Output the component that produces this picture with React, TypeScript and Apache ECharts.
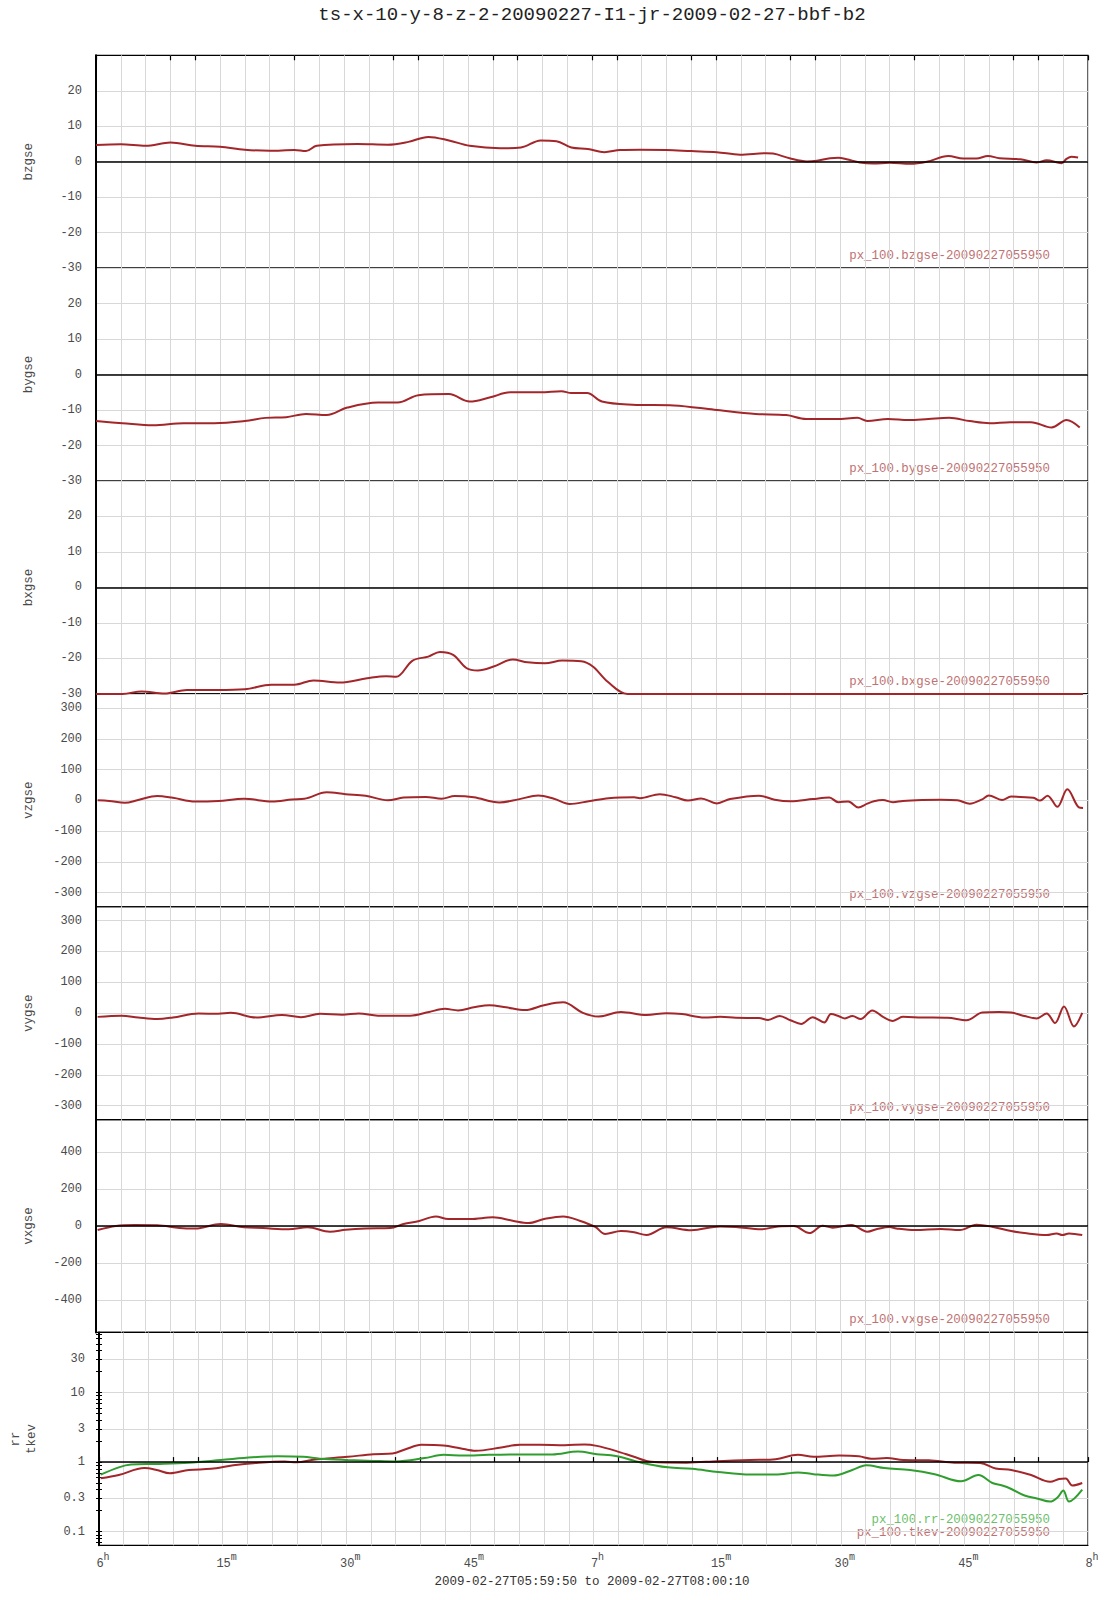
import React, { useEffect, useRef } from "react";
import * as echarts from "echarts";

// ---------- texts ----------
const TITLE = "ts-x-10-y-8-z-2-20090227-I1-jr-2009-02-27-bbf-b2";
const RANGE_TEXT = "2009-02-27T05:59:50 to 2009-02-27T08:00:10";
const SOURCE_SUFFIX = "-20090227055950";

// ---------- axis ticks / labels ----------
const xLabelMinutes = [0, 15, 30, 45, 60, 75, 90, 105, 120];
const xTickMinutes = [0, 9, 12, 24, 36, 39, 48, 51, 60, 63, 72, 75, 84, 87, 99, 111, 114, 120];
const bTicks = [-30, -20, -10, 0, 10, 20];
const vTicks = [-300, -200, -100, 0, 100, 200, 300];
const vxTicks = [-400, -200, 0, 200, 400];
const logTicks = [0.1, 0.3, 1, 3, 10, 30];

// ---------- data (minutes after 06:00 UT, values) ----------
const bzTime = [0, 3, 6, 9, 12, 15, 18, 21, 24, 25.4,
  26.7, 31.6, 35.3, 37.8, 40.2, 42.7, 45.2, 48.9, 51.4, 53.8,
  55.7, 57.5, 59.5, 61.5, 63.4, 65.8, 69, 72, 75.1, 77.9,
  81.1, 81.9, 83.9, 86, 87.2, 88.8, 89.8, 90.8, 92.4, 94,
  96, 98.5, 100.5, 103.1, 104.9, 106.5, 107.9, 109.3, 111.8, 113.8,
  115, 116.8, 117.4, 118, 118.8];
const bzValues = [4.7, 4.9, 4.5, 5.4, 4.5, 4.2, 3.4, 3.1, 3.3, 3.0,
  4.5, 5.0, 4.8, 5.6, 7.0, 6.0, 4.5, 3.8, 4.0, 6.0,
  5.8, 4.0, 3.6, 2.7, 3.3, 3.4, 3.3, 3.0, 2.7, 2.0,
  2.4, 2.3, 1.0, 0.1, 0.3, 1.0, 1.1, 0.7, -0.2, -0.5,
  -0.3, -0.6, 0, 1.6, 0.9, 0.9, 1.6, 1.0, 0.7, -0.2,
  0.4, -0.4, 0.8, 1.4, 1.2];

const byTime = [0, 3.2, 6.9, 10.6, 14.3, 18, 20.5, 23, 25.4, 27.9,
  30.4, 34.1, 36.5, 39, 42.7, 45.2, 47.7, 50.1, 53.8, 56.3,
  57.5, 59.4, 61.2, 64.9, 69.9, 74.8, 79.8, 83.5, 85.9, 89.6,
  92.1, 93.3, 95.8, 98.3, 100.7, 103.2, 105.7, 108.1, 110.6, 113.1,
  115.6, 117.4, 119];
const byValues = [-13.1, -13.7, -14.3, -13.7, -13.7, -13.1, -12.2, -12, -11.1, -11.4,
  -9.3, -7.9, -7.9, -5.8, -5.5, -7.6, -6.4, -5.0, -5.0, -4.7,
  -5.2, -5.2, -7.6, -8.5, -8.7, -9.9, -11.1, -11.4, -12.5, -12.5,
  -12.2, -13.1, -12.5, -12.8, -12.5, -12.2, -13.1, -13.7, -13.4, -13.4,
  -14.9, -12.8, -14.9];

const bxTime = [0, 3.2, 5.5, 8.3, 11, 14.7, 18, 21.2, 24, 26.3,
  29.5, 32.8, 35.1, 36.3, 38.3, 40.2, 41.6, 43.2, 44.8, 46.2,
  48.1, 50.4, 52.2, 54.3, 56.4, 58.7, 60.1, 61.9, 64.3, 75,
  90, 105, 119.4];
const bxValues = [-30, -30, -29.3, -29.9, -28.9, -28.9, -28.7, -27.4, -27.4, -26.2,
  -26.8, -25.6, -25.0, -25.2, -20.6, -19.5, -18.2, -19, -22.7, -23.4,
  -22.3, -20.3, -21.1, -21.4, -20.6, -20.8, -22.3, -26.6, -30, -30,
  -30, -30, -30];

const vzTime = [0.2, 1.6, 3.5, 5.1, 7.4, 9.3, 12, 14.8, 17.9, 21.3,
  23.7, 25.2, 27.9, 30.2, 32.6, 35.3, 37.2, 39.9, 41.8, 43.4,
  45.7, 48.8, 51.1, 53.5, 55.4, 57.3, 59.6, 62, 65.1, 65.8,
  68.2, 70.1, 71.6, 73.2, 75.1, 76.7, 80.2, 82.1, 84, 86.7,
  88.7, 89.8, 91, 92.2, 93.3, 94.1, 95.2, 96.4, 97.6, 99.9,
  102.2, 104.2, 105.7, 107.2, 108, 109.6, 110.7, 113.4, 114.2, 115.1,
  116.3, 117.5, 118.9, 119.4];
const vzValues = [0, -2, -8, 1, 14, 8, -4, -2, 5, -4,
  3, 5, 26, 20, 15, 0, 9, 11, 5, 14,
  10, -7, 3, 16, 5, -12, -3, 7, 10, 7,
  20, 10, -1, 6, -10, 4, 15, 2, -3, 4,
  9, -6, -4, -23, -11, -3, 1, -6, -2, 1,
  2, 0, -11, 3, 16, 1, 12, 8, -1, 15,
  -21, 36, -23, -25];

const vyTime = [0.2, 3.1, 5.1, 7.4, 9.3, 12.4, 14.8, 16.3, 19.4, 22.5,
  24.8, 27.1, 29.8, 31.8, 34.1, 38, 40.3, 42.2, 43.8, 45.7,
  47.6, 49.6, 51.9, 54.2, 56.5, 58.9, 60.8, 63.5, 66.6, 69,
  70.9, 73.6, 75.5, 77.4, 80.2, 81.3, 82.7, 84, 85.3, 86.7,
  88.1, 88.9, 89.8, 90.6, 91.5, 92.5, 93.9, 95.2, 96.4, 97.6,
  99.9, 103, 105.3, 107.2, 109.2, 110.7, 112.3, 113.8, 115, 116,
  117.1, 118.3, 119.3];
const vyValues = [-12, -8, -14, -19, -14, -1, -2, 1, -14, -6,
  -13, -2, -5, -1, -8, -8, 4, 14, 9, 19,
  26, 19, 10, 26, 35, 1, -11, 4, -6, 0,
  -3, -14, -12, -15, -16, -22, -9, -23, -35, -13,
  -30, -3, -9, -17, -9, -19, 9, -12, -25, -12,
  -14, -15, -23, 2, 4, 2, -9, -17, -1, -32,
  22, -43, 1];

const vxTime = [0.2, 2.4, 4.7, 7.4, 10.1, 12, 15.1, 17.9, 20.2, 23.3,
  25.6, 28.3, 30.2, 32.6, 35.6, 37.2, 39.1, 41.1, 42.6, 45.3,
  48, 50.4, 52.3, 54.2, 56.5, 58.5, 60.4, 61.6, 63.5, 65.1,
  66.6, 69, 72, 75.5, 77.4, 80.5, 82.5, 84.4, 86.3, 87.9,
  89.1, 91.4, 93.3, 94.5, 96, 96.8, 99.1, 102.2, 104.5, 106.5,
  108.4, 110.7, 112.3, 115, 116.2, 116.9, 117.7, 119.3];
const vxValues = [-22, 0, 5, 4, -11, -14, 11, -7, -11, -18,
  -7, -31, -20, -13, -11, 11, 27, 52, 38, 38,
  47, 29, 16, 38, 52, 29, -5, -43, -27, -34,
  -49, -7, -23, -2, -5, -18, -2, 0, -38, 2,
  -9, 5, -31, -16, -5, -13, -22, -16, -22, 7,
  -4, -27, -38, -49, -40, -49, -40, -49];

const tkevTime = [0.2, 2.4, 5.5, 7, 8.6, 10.9, 13.6, 16.3, 19.4, 22.5,
  24, 26, 30.2, 33.3, 35.6, 37.2, 39.1, 41.8, 43.8, 45.7,
  48.8, 51.1, 53.5, 56.5, 58.9, 60.4, 62.7, 65.1, 67, 71.3,
  75.1, 79, 82.1, 84.8, 86.7, 89.8, 92.2, 93.7, 95.6, 97.6,
  100.7, 103.8, 106.9, 108.8, 110.7, 113.1, 115.4, 116.5, 117.3, 118.1,
  119.3];
const tkevValues = [0.585, 0.652, 0.82, 0.77, 0.69, 0.77, 0.8, 0.9, 0.98, 1.02,
  0.99, 1.08, 1.19, 1.3, 1.33, 1.53, 1.77, 1.73, 1.58, 1.45,
  1.62, 1.77, 1.77, 1.75, 1.79, 1.71, 1.45, 1.17, 1.01, 0.98,
  1.03, 1.07, 1.1, 1.27, 1.19, 1.24, 1.21, 1.12, 1.14, 1.07,
  1.06, 0.98, 0.97, 0.81, 0.77, 0.65, 0.52, 0.57, 0.58, 0.46,
  0.5];

const rrTime = [0.2, 2.4, 3.9, 7, 10.9, 14.8, 18.6, 21.7, 24.8, 26.8,
  30.2, 33.3, 36, 39.5, 41.8, 44.2, 47.3, 51.9, 55, 58.1,
  60.4, 62.7, 65.8, 69, 72, 75.1, 79, 82.1, 84.8, 86.7,
  89.1, 91.4, 93.1, 95.3, 98.4, 101.4, 104.6, 106.7, 108.4, 109.6,
  110.7, 112.3, 113.8, 115.4, 116.3, 117, 117.7, 119.3];
const rrValues = [0.66, 0.84, 0.92, 0.94, 0.98, 1.07, 1.17, 1.21, 1.19, 1.12,
  1.07, 1.04, 1.02, 1.14, 1.27, 1.24, 1.27, 1.29, 1.29, 1.42,
  1.3, 1.22, 0.98, 0.84, 0.8, 0.72, 0.66, 0.66, 0.71, 0.67,
  0.64, 0.77, 0.9, 0.82, 0.77, 0.67, 0.53, 0.65, 0.5, 0.46,
  0.41, 0.33, 0.3, 0.27, 0.31, 0.39, 0.27, 0.4];

// ---------- styling / layout ----------
const MONO = '"Liberation Mono", "DejaVu Sans Mono", monospace';
const RED = "#a3262a";
const GREEN = "#2f9e2f";
const RED_TEXT = "#c07272";
const GREEN_TEXT = "#6cbf6c";
const GRIDC = "#d8d8d8";
const LABELC = "#4a4a4a";
const GRID_LEFT = 96;
const GRID_WIDTH = 992;
const GRID_TOP = 55.3;
const PANEL_H = 212.86;
const LOG_MIN = Math.log10(0.0635);
const LOG_MAX = Math.log10(73.1);

const zip = (t: number[], v: number[]) => t.map((x, i) => [x, v[i]]);
const zipLog = (t: number[], v: number[]) => t.map((x, i) => [x, Math.log10(v[i])]);

type Panel = {
  name: string;
  min: number;
  max: number;
  ticks: number[];
  zeroLine: boolean;
  log?: boolean;
  legend: string;
};

const panels: Panel[] = [
  { name: "bzgse", min: -30, max: 30, ticks: bTicks, zeroLine: true, legend: "px_100.bzgse" },
  { name: "bygse", min: -30, max: 30, ticks: bTicks, zeroLine: true, legend: "px_100.bygse" },
  { name: "bxgse", min: -30, max: 30, ticks: bTicks, zeroLine: true, legend: "px_100.bxgse" },
  { name: "vzgse", min: -346, max: 346, ticks: vTicks, zeroLine: false, legend: "px_100.vzgse" },
  { name: "vygse", min: -345, max: 345, ticks: vTicks, zeroLine: false, legend: "px_100.vygse" },
  { name: "vxgse", min: -577, max: 577, ticks: vxTicks, zeroLine: true, legend: "px_100.vxgse" },
  { name: "rr\ntkev", min: LOG_MIN, max: LOG_MAX, ticks: logTicks.map((v) => Math.log10(v)), zeroLine: true, log: true, legend: "" },
];

const fmtLog = (v: number) => {
  const x = Math.pow(10, v);
  return x >= 1 ? String(Math.round(x)) : String(Math.round(x * 10) / 10);
};

const fmtTime = (v: number) => {
  const m = Math.round(v) % 60;
  const h = 6 + Math.floor(Math.round(v) / 60);
  return m === 0 ? `{n|${h}}{s|h}` : `{n|${m}}{s|m}`;
};

function buildOption() {
  const grids = panels.map((_, i) => ({
    left: GRID_LEFT,
    width: GRID_WIDTH,
    top: GRID_TOP + i * PANEL_H,
    height: PANEL_H,
    show: true,
    borderColor: "#000",
    borderWidth: 1.2,
    backgroundColor: "transparent",
  }));

  const xAxes: any[] = panels.map((_, i) => ({
    gridIndex: i,
    type: "value",
    min: 0,
    max: 120,
    interval: 3,
    position: "top",
    axisLine: { show: false },
    axisTick: { show: false },
    axisLabel: { show: false },
    splitLine: { show: true, lineStyle: { color: GRIDC, width: 1 } },
  }));
  xAxes.push({
    gridIndex: 0,
    type: "value",
    min: 0,
    max: 120,
    position: "top",
    axisLine: { show: false },
    splitLine: { show: false },
    axisLabel: { show: false },
    axisTick: { show: true, inside: true, length: 5, customValues: xTickMinutes, lineStyle: { color: "#000", width: 1.2 } },
  });
  xAxes.push({
    gridIndex: 6,
    type: "value",
    min: 0,
    max: 120,
    position: "bottom",
    axisLine: { show: false },
    splitLine: { show: false },
    axisTick: { show: true, inside: true, length: 5, customValues: xTickMinutes, lineStyle: { color: "#000", width: 1.2 } },
    axisLabel: {
      show: true,
      customValues: xLabelMinutes,
      formatter: fmtTime,
      margin: 7,
      color: LABELC,
      padding: [0, 0, 0, 8],
      rich: {
        n: { fontFamily: MONO, fontSize: 12, lineHeight: 18, verticalAlign: "bottom", color: LABELC },
        s: { fontFamily: MONO, fontSize: 10, lineHeight: 10, verticalAlign: "top", color: LABELC },
      },
    },
  });

  const yAxes: any[] = panels.map((p, i) => ({
    gridIndex: i,
    type: "value",
    min: p.min,
    max: p.max,
    position: "left",
    name: p.name,
    nameLocation: "middle",
    nameRotate: 90,
    nameGap: 59,
    nameTextStyle: { fontFamily: MONO, fontSize: 12.5, color: LABELC, lineHeight: 16 },
    axisLine: { show: true, onZero: false, lineStyle: { color: "#000", width: 2 } },
    axisTick: { show: false, customValues: p.ticks },
    axisLabel: {
      customValues: p.ticks,
      margin: 14,
      fontFamily: MONO,
      fontSize: 12,
      color: LABELC,
      formatter: p.log ? fmtLog : (v: number) => String(v),
    },
    splitLine: { show: true, lineStyle: { color: GRIDC, width: 1 } },
  }));

  const minorLog: number[] = [];
  [-2, -1, 0, 1].forEach((d) => {
    for (let k = 1; k <= 9; k++) {
      const lv = Math.log10(k * Math.pow(10, d));
      if (lv > LOG_MIN && lv < LOG_MAX) minorLog.push(lv);
    }
  });
  ["left", "right"].forEach((pos) => {
    yAxes.push({
      gridIndex: 6,
      type: "value",
      min: LOG_MIN,
      max: LOG_MAX,
      position: pos,
      axisLine: { show: false },
      axisLabel: { show: false },
      splitLine: { show: false },
      axisTick: { show: true, inside: true, length: 3, customValues: minorLog, lineStyle: { color: "#000", width: 1 } },
    });
  });

  const zeroMark = {
    silent: true,
    symbol: ["none", "none"],
    label: { show: false },
    lineStyle: { color: "#000", width: 1.5, type: "solid" },
    data: [{ yAxis: 0 }],
  };

  const lineSeries = (name: string, idx: number, data: number[][], color: string, zero: boolean) => ({
    name,
    type: "line",
    xAxisIndex: idx,
    yAxisIndex: idx,
    data,
    showSymbol: false,
    symbol: "none",
    smooth: 0.35,
    lineStyle: { color, width: 2 },
    itemStyle: { color },
    markLine: zero ? zeroMark : undefined,
    z: 3,
  });

  const series = [
    lineSeries("bzgse", 0, zip(bzTime, bzValues), RED, true),
    lineSeries("bygse", 1, zip(byTime, byValues), RED, true),
    lineSeries("bxgse", 2, zip(bxTime, bxValues), RED, true),
    lineSeries("vzgse", 3, zip(vzTime, vzValues), RED, false),
    lineSeries("vygse", 4, zip(vyTime, vyValues), RED, false),
    lineSeries("vxgse", 5, zip(vxTime, vxValues), RED, true),
    lineSeries("tkev", 6, zipLog(tkevTime, tkevValues), RED, true),
    lineSeries("rr", 6, zipLog(rrTime, rrValues), GREEN, false),
  ];

  const graphics: any[] = [
    {
      type: "text",
      x: 592,
      y: 15,
      style: { text: TITLE, fontFamily: MONO, fontSize: 19, fill: "#222", align: "center", verticalAlign: "middle" },
    },
    {
      type: "text",
      x: 592,
      y: 1582,
      style: { text: RANGE_TEXT, fontFamily: MONO, fontSize: 12.5, fill: "#333", align: "center", verticalAlign: "middle" },
    },
  ];
  panels.forEach((p, i) => {
    if (!p.legend) return;
    graphics.push({
      type: "text",
      x: 1050,
      y: GRID_TOP + (i + 1) * PANEL_H - 12,
      style: { text: p.legend + SOURCE_SUFFIX, fontFamily: MONO, fontSize: 12.4, fill: RED_TEXT, align: "right", verticalAlign: "middle" },
    });
  });
  graphics.push({
    type: "text",
    x: 1050,
    y: GRID_TOP + 7 * PANEL_H - 25,
    style: { text: "px_100.rr" + SOURCE_SUFFIX, fontFamily: MONO, fontSize: 12.4, fill: GREEN_TEXT, align: "right", verticalAlign: "middle" },
  });
  graphics.push({
    type: "text",
    x: 1050,
    y: GRID_TOP + 7 * PANEL_H - 12.5,
    style: { text: "px_100.tkev" + SOURCE_SUFFIX, fontFamily: MONO, fontSize: 12.4, fill: RED_TEXT, align: "right", verticalAlign: "middle" },
  });

  return {
    animation: false,
    backgroundColor: "#fff",
    textStyle: { fontFamily: MONO },
    grid: grids,
    xAxis: xAxes,
    yAxis: yAxes,
    series,
    graphic: graphics,
  };
}

export default function App() {
  const ref = useRef<HTMLDivElement>(null);
  useEffect(() => {
    document.body.style.margin = "0";
    if (!ref.current) return;
    const chart = echarts.init(ref.current, undefined, { renderer: "svg" });
    chart.setOption(buildOption() as any);
    return () => chart.dispose();
  }, []);
  return <div ref={ref} style={{ width: 1107, height: 1600 }} />;
}
